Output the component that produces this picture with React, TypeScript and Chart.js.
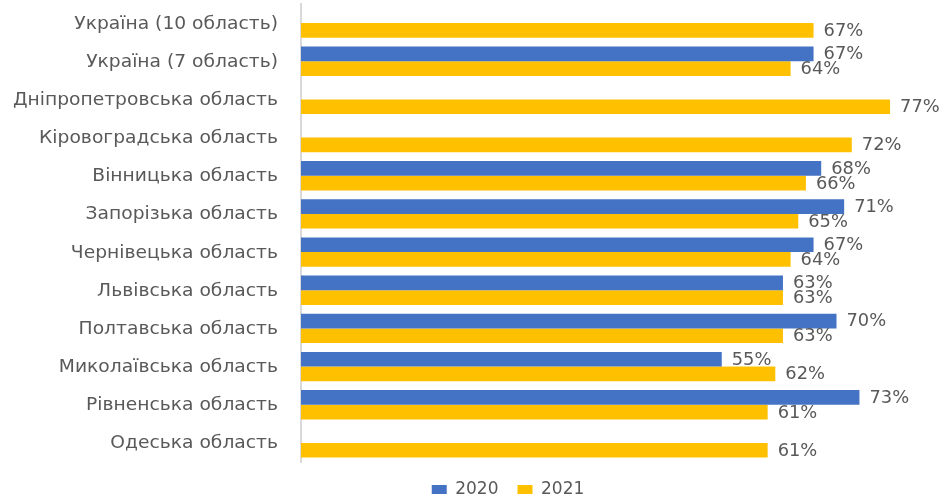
import React, { useEffect, useRef } from "react";
import { Chart, registerables } from "chart.js";

Chart.register(...registerables);

const categories = [
  "Україна (10 область)",
  "Україна (7 область)",
  "Дніпропетровська область",
  "Кіровоградська область",
  "Вінницька область",
  "Запорізька область",
  "Чернівецька область",
  "Львівська область",
  "Полтавська область",
  "Миколаївська область",
  "Рівненська область",
  "Одеська область",
];

const values2020: (number | null)[] = [null, 67, null, null, 68, 71, 67, 63, 70, 55, 73, null];
const values2021: (number | null)[] = [67, 64, 77, 72, 66, 65, 64, 63, 63, 62, 61, 61];

const seriesNames = ["2020", "2021"];

const FONT = "'DejaVu Sans', sans-serif";
const TEXT = "#595959";
const PAD_LEFT = 103;
const AXIS_X = 301;

// draws horizontally stretched text (reference text is wide)
function stretchedText(ctx: any, text: string, x: number, y: number, sx: number, align: "left" | "right") {
  ctx.save();
  ctx.translate(x, y);
  ctx.scale(sx, 1);
  ctx.textAlign = align;
  ctx.fillText(text, 0, 0);
  ctx.restore();
}

const textPlugin = {
  id: "textPlugin",
  afterDatasetsDraw(chart: any) {
    const ctx = chart.ctx;
    ctx.save();
    ctx.fillStyle = TEXT;
    ctx.textBaseline = "middle";
    // value labels
    ctx.font = `17px ${FONT}`;
    chart.data.datasets.forEach((ds: any, i: number) => {
      const meta = chart.getDatasetMeta(i);
      meta.data.forEach((bar: any, j: number) => {
        const v = ds.data[j];
        if (v == null) return;
        stretchedText(ctx, `${v}%`, bar.x + 10, bar.y + 1, 1.05, "left");
      });
    });
    // category labels, positioned by the y scale
    const y = chart.scales.y;
    ctx.font = `17px ${FONT}`;
    chart.data.labels.forEach((lab: string, i: number) => {
      stretchedText(ctx, lab, y.right - 23, y.getPixelForTick(i) + 1, 1.1, "right");
    });
    ctx.restore();
  },
};

export default function App() {
  const ref = useRef<HTMLCanvasElement>(null);
  useEffect(() => {
    document.body.style.margin = "0";
    const chart = new Chart(ref.current!, {
      type: "bar",
      data: {
        labels: categories,
        datasets: [
          { label: seriesNames[0], data: values2020, backgroundColor: "#4472C4", barPercentage: 1, categoryPercentage: 0.77 },
          { label: seriesNames[1], data: values2021, backgroundColor: "#FFC000", barPercentage: 1, categoryPercentage: 0.77 },
        ],
      },
      options: {
        indexAxis: "y",
        animation: false,
        responsive: false,
        layout: { padding: { top: 4, right: 31, bottom: -9, left: PAD_LEFT } },
        plugins: {
          legend: {
            position: "bottom",
            labels: {
              boxWidth: 15,
              boxHeight: 9,
              color: TEXT,
              font: { family: FONT, size: 17 },
              padding: 19,
            },
          },
          tooltip: { enabled: false },
        },
        scales: {
          x: { display: false, min: 0, max: 80 },
          y: {
            grid: { display: false, drawTicks: false },
            border: { display: true, color: "#d9d9d9", width: 2 },
            ticks: { display: false },
            afterFit: (s: any) => {
              s.width = AXIS_X - PAD_LEFT;
              s.paddingTop = 0;
              s.paddingBottom = 0;
            },
          },
        },
      },
      plugins: [textPlugin],
    });
    return () => chart.destroy();
  }, []);
  return (
    <div style={{ width: 944, height: 499 }}>
      <canvas ref={ref} width={944} height={499} />
    </div>
  );
}
